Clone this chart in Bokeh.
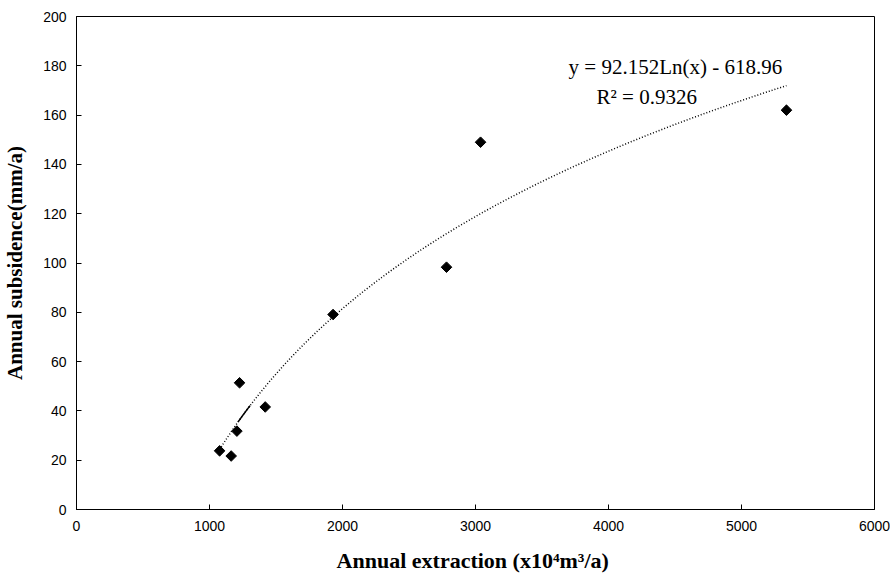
import numpy as np
from bokeh.plotting import figure
from bokeh.models import Range1d, FixedTicker, Label
from bokeh.embed import file_html
from bokeh.resources import INLINE

# Data
extraction = [1076, 1163, 1206, 1226, 1419, 1929, 2782, 3038, 5338]
subsidence = [23.8, 21.7, 31.8, 51.4, 41.6, 79.1, 98.3, 149.0, 162.0]
fit_a = 92.152
fit_b = -618.96
x_ticks = [0, 1000, 2000, 3000, 4000, 5000, 6000]
y_ticks = [0, 20, 40, 60, 80, 100, 120, 140, 160, 180, 200]

p = figure(width=890, height=575, output_backend="svg", toolbar_location=None,
           x_range=Range1d(0, 6000), y_range=Range1d(0, 200),
           min_border_left=76, min_border_right=16, min_border_top=16, min_border_bottom=66)
p.xgrid.visible = False
p.ygrid.visible = False
p.outline_line_color = "black"
p.outline_line_width = 1
p.background_fill_color = "white"
p.border_fill_color = "white"

for ax in (p.xaxis[0], p.yaxis[0]):
    ax.axis_line_color = "black"
    ax.major_tick_in = 5
    ax.major_tick_out = 0
    ax.minor_tick_line_color = None
    ax.major_label_text_font = "Liberation Sans"
    ax.major_label_text_font_size = "14px"
    ax.major_label_text_color = "black"
    ax.axis_label_text_font = "Liberation Serif"
    ax.axis_label_text_font_style = "bold"
    ax.axis_label_text_font_size = "21px"
    ax.axis_label_text_color = "black"

p.xaxis.ticker = FixedTicker(ticks=x_ticks)
p.yaxis.ticker = FixedTicker(ticks=y_ticks)
p.xaxis.major_label_standoff = 11
p.yaxis.major_label_standoff = 10
p.xaxis.axis_label = "Annual extraction  (x10\u2074m\u00b3/a)"
p.xaxis.axis_label_text_font_size = "22px"
p.yaxis.axis_label = "Annual subsidence(mm/a)"
p.xaxis.axis_label_standoff = 14
p.yaxis.axis_label_standoff = 13

# logarithmic trend line over the data range
xs = np.linspace(min(extraction), max(extraction), 300)
ys = fit_a * np.log(xs) + fit_b
p.line(xs, ys, line_color="black", line_width=1.5, line_dash="1 2")
xs2 = np.linspace(1215, 1305, 20)
p.line(xs2, fit_a * np.log(xs2) + fit_b, line_color="black", line_width=1.5)

p.scatter(extraction, subsidence, marker="square", size=7.5, angle=np.pi / 4, color="black")

p.add_layout(Label(x=3700, y=179.7, text="y = 92.152Ln(x) - 618.96",
                   text_font="Liberation Serif", text_font_size="21px",
                   text_baseline="middle", text_align="left", text_color="black"))
p.add_layout(Label(x=3910, y=167.5, text="R\u00b2 = 0.9326",
                   text_font="Liberation Serif", text_font_size="21px",
                   text_baseline="middle", text_align="left", text_color="black"))

open("out.html", "w").write(file_html(p, INLINE))
